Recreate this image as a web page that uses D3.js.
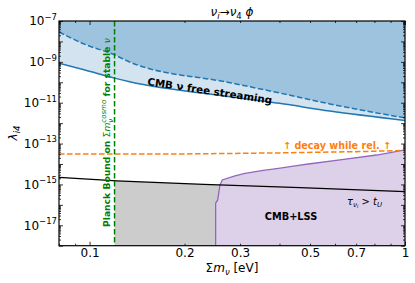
<!DOCTYPE html>
<html>
<head>
<meta charset="utf-8">
<title>nu_i to nu_4 phi</title>
<script src="https://d3js.org/d3.v7.min.js"></script>
<style>
  body { margin: 0; background: #fff; }
  svg text { font-family: "DejaVu Sans", sans-serif; }
</style>
</head>
<body>
<div id="chart"></div>
<script>
    // ---- data ----
    // CMB nu free streaming bound (solid = edge, dashed = stronger edge)
    var fsMass   = [0.08, 0.0967, 0.12, 0.134, 0.279, 0.40, 0.578, 1.0];
    var fsSolid  = [8.5e-10, 4.0e-10, 1.6e-10, 1.07e-10, 1.95e-11, 9.3e-12, 3.9e-12, 1.35e-12];
    var fsDashed = [2.9e-8, 7.2e-9, 2.2e-9, 9.8e-10, 9.5e-11, 3.0e-11, 8.7e-12, 1.8e-12];

    // decay while relativistic (orange dashed)
    var decayMass = [0.08, 0.2, 0.4, 0.7, 1.0];
    var decayLam  = [3.1e-14, 3.1e-14, 3.5e-14, 4.0e-14, 4.6e-14];

    // lifetime longer than age of universe (black)
    var lifeMass = [0.08, 0.122, 0.23, 0.465, 1.0];
    var lifeLam  = [2.2e-15, 1.5e-15, 1.0e-15, 6.9e-16, 4.4e-16];

    // CMB+LSS allowed region edge (purple)
    var lssMass = [0.251, 0.251, 0.2548, 0.259, 0.2634, 0.289, 0.311, 0.351, 0.397, 0.448, 0.494, 0.622, 0.813, 0.907, 1.0];
    var lssLam  = [1e-18, 1.2e-16, 1.74e-16, 9.3e-16, 1.65e-15, 2.6e-15, 3.5e-15, 4.7e-15, 6.1e-15, 8.0e-15, 1.0e-14, 1.6e-14, 2.75e-14, 3.7e-14, 4.9e-14];

    var planckBound = 0.12;

    var xLabelVals = [0.1, 0.2, 0.3, 0.5, 0.7, 1];
    var xLabelText = ["0.1", "0.2", "0.3", "0.5", "0.7", "1"];
    var yLabelExp  = [-7, -9, -11, -13, -15, -17];

    // ---- layout ----
    var width = 415, height = 283;
    var margin = { top: 21, right: 10, bottom: 37.3, left: 59 };
    var w = width - margin.left - margin.right;
    var h = height - margin.top - margin.bottom;

    var svg = d3.select("#chart").append("svg")
        .attr("width", width)
        .attr("height", height);

    var g = svg.append("g")
        .attr("transform", "translate(" + margin.left + "," + margin.top + ")");

    var x = d3.scaleLog().domain([0.08, 1]).range([0, w]);
    var y = d3.scaleLog().domain([1e-18, 1e-7]).range([h, 0]);

    g.append("clipPath").attr("id", "plotClip")
        .append("rect").attr("width", w).attr("height", h);

    var plot = g.append("g").attr("clip-path", "url(#plotClip)");

    function zipPts(ms, ls) {
        return ms.map(function (m, i) { return [m, ls[i]]; });
    }

    var line = d3.line()
        .x(function (d) { return x(d[0]); })
        .y(function (d) { return y(d[1]); });

    var smoothLine = d3.line()
        .curve(d3.curveMonotoneX)
        .x(function (d) { return x(d[0]); })
        .y(function (d) { return y(d[1]); });

    var areaTop = d3.area()
        .curve(d3.curveMonotoneX)
        .x(function (d) { return x(d[0]); })
        .y0(0)
        .y1(function (d) { return y(d[1]); });

    var areaBottom = d3.area()
        .x(function (d) { return x(d[0]); })
        .y0(h)
        .y1(function (d) { return y(d[1]); });

    // free streaming regions
    plot.append("path").datum(zipPts(fsMass, fsSolid))
        .attr("d", areaTop).attr("fill", "#d3e4f0");
    plot.append("path").datum(zipPts(fsMass, fsDashed))
        .attr("d", areaTop).attr("fill", "#9dc3de");

    // grey region right of planck bound, below lifetime line
    plot.append("clipPath").attr("id", "planckClip")
        .append("rect")
        .attr("x", x(planckBound)).attr("y", 0)
        .attr("width", w - x(planckBound)).attr("height", h);
    plot.append("path").datum(zipPts(lifeMass, lifeLam))
        .attr("d", areaBottom)
        .attr("fill", "#cccccc")
        .attr("clip-path", "url(#planckClip)");

    // CMB+LSS region
    plot.append("path").datum(zipPts(lssMass, lssLam))
        .attr("d", areaBottom).attr("fill", "#ddd1ea");

    // lines
    plot.append("path").datum(zipPts(fsMass, fsSolid))
        .attr("d", smoothLine).attr("fill", "none")
        .attr("stroke", "#1f77b4").attr("stroke-width", 1.5);
    plot.append("path").datum(zipPts(fsMass, fsDashed))
        .attr("d", smoothLine).attr("fill", "none")
        .attr("stroke", "#1f77b4").attr("stroke-width", 1.5)
        .attr("stroke-dasharray", "5.5,2.5");
    plot.append("path").datum(zipPts(lssMass, lssLam))
        .attr("d", line).attr("fill", "none")
        .attr("stroke", "#9467bd").attr("stroke-width", 1.3);
    plot.append("path").datum(zipPts(lifeMass, lifeLam))
        .attr("d", line).attr("fill", "none")
        .attr("stroke", "black").attr("stroke-width", 1.3);
    plot.append("path").datum(zipPts(decayMass, decayLam))
        .attr("d", line).attr("fill", "none")
        .attr("stroke", "#ff7f0e").attr("stroke-width", 1.5)
        .attr("stroke-dasharray", "5.5,2.5");
    plot.append("line")
        .attr("x1", x(planckBound)).attr("x2", x(planckBound))
        .attr("y1", 0).attr("y2", h)
        .attr("stroke", "green").attr("stroke-width", 1.5)
        .attr("stroke-dasharray", "5.5,2.5");

    // ---- annotations ----
    g.append("text")
        .attr("transform", "translate(" + (147 - margin.left) + "," + (85 - margin.top) + ") rotate(8.6)")
        .attr("font-size", "10.3px").attr("font-weight", "bold")
        .text("CMB \u03bd free streaming");

    var planck = g.append("text")
        .attr("transform", "translate(" + (110 - margin.left) + "," + (227 - margin.top) + ") rotate(-90)")
        .attr("font-size", "9.2px").attr("fill", "green");
    planck.append("tspan").attr("font-weight", "bold").text("Planck Bound on ");
    planck.append("tspan").text("\u03a3");
    planck.append("tspan").attr("font-style", "italic").text("m");
    planck.append("tspan").attr("font-style", "italic").attr("font-size", "7px").attr("dy", 2.5).text("\u03bd");
    planck.append("tspan").attr("font-style", "italic").attr("font-size", "7px").attr("dx", -4).attr("dy", -7).text("cosmo");
    planck.append("tspan").attr("font-weight", "bold").attr("dy", 4.5).text(" for stable ");
    planck.append("tspan").attr("font-style", "italic").text("\u03bd");

    g.append("text")
        .attr("x", 391 - margin.left).attr("y", 149 - margin.top)
        .attr("text-anchor", "end")
        .attr("font-size", "9.6px").attr("font-weight", "bold").attr("fill", "#ff7f0e")
        .text("\u2191 decay while rel. \u2191");

    var tau = g.append("text")
        .attr("x", 347 - margin.left).attr("y", 205 - margin.top)
        .attr("font-size", "10px");
    tau.append("tspan").attr("font-style", "italic").text("\u03c4");
    tau.append("tspan").attr("font-style", "italic").attr("font-size", "7px").attr("dy", 2).text("\u03bd");
    tau.append("tspan").attr("font-style", "italic").attr("font-size", "5px").attr("dy", 1).text("i");
    tau.append("tspan").attr("dy", -3).text(" > ");
    tau.append("tspan").attr("font-style", "italic").text("t");
    tau.append("tspan").attr("font-style", "italic").attr("font-size", "7px").attr("dy", 2).text("U");

    g.append("text")
        .attr("x", 291 - margin.left).attr("y", 219.5 - margin.top)
        .attr("text-anchor", "middle")
        .attr("font-size", "9.8px").attr("font-weight", "bold")
        .text("CMB+LSS");

    // ---- axes ----
    var yMajor = d3.range(-18, -6).map(function (e) { return Math.pow(10, e); });
    var yMinor = [];
    d3.range(-18, -7).forEach(function (e) {
        for (var k = 2; k <= 9; ++k) yMinor.push(k * Math.pow(10, e));
    });
    var xMajor = [0.1, 1];
    var xMinor = [0.08, 0.09, 0.2, 0.3, 0.4, 0.5, 0.6, 0.7, 0.8, 0.9];

    function tickAxis(axis, vals, size, tr) {
        var a = g.append("g")
            .attr("transform", tr || null)
            .call(axis.tickValues(vals).tickSizeInner(-size).tickSizeOuter(0).tickFormat(""));
        a.select(".domain").remove();
        a.selectAll("line").attr("stroke", "black").attr("stroke-width", 0.8);
        return a;
    }

    tickAxis(d3.axisBottom(x), xMajor, 4, "translate(0," + h + ")");
    tickAxis(d3.axisBottom(x), xMinor, 2, "translate(0," + h + ")");
    tickAxis(d3.axisTop(x), xMajor, 4);
    tickAxis(d3.axisTop(x), xMinor, 2);
    tickAxis(d3.axisLeft(y), yMajor, 4);
    tickAxis(d3.axisLeft(y), yMinor, 2);
    tickAxis(d3.axisRight(y), yMajor, 4, "translate(" + w + ",0)");
    tickAxis(d3.axisRight(y), yMinor, 2, "translate(" + w + ",0)");

    // x tick labels
    var xl = g.append("g")
        .attr("transform", "translate(0," + h + ")")
        .call(d3.axisBottom(x).tickValues(xLabelVals).tickSize(0).tickPadding(3)
            .tickFormat(function (d, i) { return xLabelText[i]; }));
    xl.select(".domain").remove();
    xl.selectAll("text").attr("font-size", "12px").attr("font-family", "DejaVu Sans").attr("fill", "black");

    // y tick labels (10^n)
    yLabelExp.forEach(function (e) {
        var t = g.append("text")
            .attr("x", -2).attr("y", y(Math.pow(10, e)) + 4.3)
            .attr("text-anchor", "end")
            .attr("font-size", "12px");
        t.append("tspan").text("10");
        t.append("tspan").attr("font-size", "8.5px").attr("dy", -5.5).text("\u2212" + Math.abs(e));
    });

    // frame
    g.append("rect")
        .attr("width", w).attr("height", h)
        .attr("fill", "none").attr("stroke", "black").attr("stroke-width", 1.2);

    // axis labels and title
    var xlab = svg.append("text")
        .attr("x", 232).attr("y", 272)
        .attr("text-anchor", "middle").attr("font-size", "12px");
    xlab.append("tspan").text("\u03a3");
    xlab.append("tspan").attr("font-style", "italic").text("m");
    xlab.append("tspan").attr("font-style", "italic").attr("font-size", "8.5px").attr("dy", 2.5).text("\u03bd");
    xlab.append("tspan").attr("dy", -2.5).text(" [eV]");

    var ylab = svg.append("text")
        .attr("transform", "translate(17,133) rotate(-90)")
        .attr("text-anchor", "middle").attr("font-size", "12px");
    ylab.append("tspan").attr("font-style", "italic").text("\u03bb");
    ylab.append("tspan").attr("font-style", "italic").attr("font-size", "8.5px").attr("dy", 2.5).text("i4");

    var title = svg.append("text")
        .attr("x", 232).attr("y", 16)
        .attr("text-anchor", "middle").attr("font-size", "12px");
    title.append("tspan").attr("font-style", "italic").text("\u03bd");
    title.append("tspan").attr("font-style", "italic").attr("font-size", "8.5px").attr("dy", 2.5).text("i");
    title.append("tspan").attr("dy", -2.5).text("\u2192");
    title.append("tspan").attr("font-style", "italic").text("\u03bd");
    title.append("tspan").attr("font-size", "8.5px").attr("dy", 2.5).text("4");
    title.append("tspan").attr("font-style", "italic").attr("dy", -2.5).text(" \u03d5");
</script>
</body>
</html>
